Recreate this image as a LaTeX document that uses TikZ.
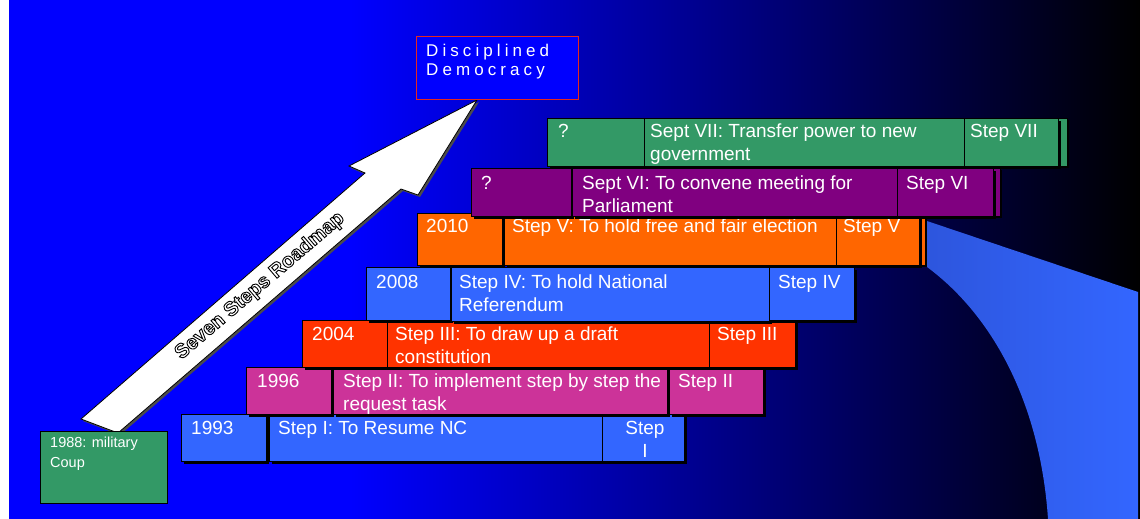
\documentclass[tikz,border=0pt]{standalone}
\usepackage{fontspec}
\setmainfont{Liberation Sans}
\definecolor{cgreen}{RGB}{51,153,102}
\definecolor{cpurple}{RGB}{128,0,128}
\definecolor{corange}{RGB}{255,102,0}
\definecolor{cblue}{RGB}{51,102,255}
\definecolor{cred}{RGB}{255,51,0}
\definecolor{cmagenta}{RGB}{204,51,153}
\definecolor{swl}{RGB}{45,85,220}
\definecolor{ddred}{RGB}{230,40,30}
\definecolor{pureblue}{RGB}{0,0,255}
\tikzset{
  cellbox/.style={draw=black, line width=0.9pt, inner sep=0pt, outer sep=0pt},
  txt/.style={anchor=base west, inner sep=0pt, text=white, font=\fontsize{19}{23}\selectfont},
  txtc/.style={txt, anchor=base},
}
\newcommand\cellrect[6]{% name, x1, y1, x2, y2, colour
  \fill[black] (#2+2.5,#3+2.5) rectangle (#4+2.5,#5+2.5);
  \node[cellbox, fill=#6, minimum width={#4-#2}, minimum height={#5-#3}, anchor=north west] (#1) at (#2,#3) {};
}
\newcommand\outlinetext[1]{\special{pdf:literal direct 2 Tr 0.9 w 0 G}#1\special{pdf:literal direct 0 Tr}}
\begin{document}
\begin{tikzpicture}[x=1pt,y=-1pt]
\useasboundingbox (0,0) rectangle (1140,519);
% background
\fill[white] (0,0) rectangle (1140,519);
\fill[pureblue] (9,0) rectangle (351,519);
\shade[left color=pureblue, right color=black] (350,0) rectangle (1140,519);
% swoosh
\shade[left color=swl, right color=cblue] (918,218) -- (1138,292) -- (1138,519) -- (1048,519)
  .. controls (1040,400) and (990,310) .. (920,262) -- cycle;
% arrow
\fill[black!70] (83,421) -- (367,175) -- (351,168) -- (479,102) -- (420,197) -- (403,191) -- (120,435) -- cycle;
\filldraw[fill=white, draw=black, line width=0.8pt] (81,419) -- (365,173) -- (349,166) -- (477,100) -- (418,195) -- (401,189) -- (118,433) -- cycle;
% arrow label
\node[rotate=40.5, text=white, font=\fontsize{20}{24}\selectfont\bfseries, inner sep=0pt] (lbl) at (260,286) {\outlinetext{Seven Steps Roadmap}};
% Disciplined Democracy
\node[draw=ddred, fill=pureblue, line width=1pt, minimum width=162pt, minimum height=63pt, anchor=north west, inner sep=0pt] (dd) at (416,36) {};
\node[txt, font=\fontsize{17}{18}\addfontfeatures{LetterSpace=24}\selectfont] (dd1) at (426,57) {Disciplined};
\node[txt, font=\fontsize{17}{18}\addfontfeatures{LetterSpace=24}\selectfont] (dd2) at (426,75) {Democracy};
% 1988 box
\node[draw=black, fill=cgreen, line width=1.3pt, minimum width=127pt, minimum height=72pt, anchor=north west, inner sep=0pt] (coup) at (40,431) {};
\node[txt, font=\fontsize{14.5}{19}\selectfont] (coup1) at (50,447) {1988: military};
\node[txt, font=\fontsize{14.5}{19}\selectfont] (coup2) at (50,467) {Coup};
% Row 1
\cellrect{r1a}{181}{414}{266}{461}{cblue}
\cellrect{r1b}{269}{414}{602.5}{461}{cblue}
\cellrect{r1c}{602.5}{414}{684.5}{461}{cblue}
\node[txt] (t1a) at (191,434) {1993};
\node[txt] (t1b) at (278,434) {Step I: To Resume NC};
\node[txtc] (t1c) at (645,434) {Step};
\node[txtc] (t1d) at (645,457) {I};
% Row 2
\cellrect{r2a}{246}{367}{331}{414}{cmagenta}
\cellrect{r2b}{333.5}{367}{667}{414}{cmagenta}
\cellrect{r2c}{669}{367}{763}{414}{cmagenta}
\node[txt] (t2a) at (257,387) {1996};
\node[txt] (t2b) at (343,387) {Step II: To implement step by step the};
\node[txt] (t2b2) at (343,410) {request task};
\node[txt] (t2c) at (678,387) {Step II};
% Row 3
\cellrect{r3a}{302}{320}{387.5}{367}{cred}
\cellrect{r3b}{387.5}{320}{709}{367}{cred}
\cellrect{r3c}{709}{320}{795}{367}{cred}
\node[txt] (t3a) at (312,340) {2004};
\node[txt] (t3b) at (395,340) {Step III: To draw up a draft};
\node[txt] (t3b2) at (395,363) {constitution};
\node[txt] (t3c) at (717,340) {Step III};
% Row 4
\cellrect{r4a}{366}{267}{450}{320}{cblue}
\cellrect{r4b}{451}{267}{769}{321}{cblue}
\cellrect{r4c}{769}{267}{854}{320}{cblue}
\node[txt] (t4a) at (376,288) {2008};
\node[txt] (t4b) at (459,288) {Step IV: To hold National};
\node[txt] (t4b2) at (459,311) {Referendum};
\node[txt] (t4c) at (778,288) {Step IV};
% Row 5
\fill[black] (919,215) rectangle (927,267);
\node[cellbox, fill=corange, minimum width=6pt, minimum height=52pt, anchor=north west] (r5d) at (919,213) {};
\cellrect{r5a}{417}{213}{502}{265}{corange}
\cellrect{r5b}{504}{213}{836}{265}{corange}
\cellrect{r5c}{836}{213}{919}{265}{corange}
\node[txt] (t5a) at (426,232) {2010};
\node[txt] (t5b) at (512,232) {Step V: To hold free and fair election};
\node[txt] (t5c) at (843,232) {Step V};
% Row 6
\fill[black] (993,170) rectangle (1002,218);
\node[cellbox, fill=cpurple, minimum width=7pt, minimum height=48pt, anchor=north west] (r6d) at (993,168) {};
\cellrect{r6a}{471}{168}{571}{216}{cpurple}
\cellrect{r6b}{572}{168}{897}{216}{cpurple}
\cellrect{r6c}{897}{168}{993}{216}{cpurple}
\node[txt] (t6a) at (481,189) {?};
\node[txt] (t6b) at (582,189) {Sept VI: To convene meeting for};
\node[txt] (t6b2) at (582,212) {Parliament};
\node[txt] (t6c) at (906,189) {Step VI};
% Row 7
\fill[black] (1058,120) rectangle (1069,168);
\node[cellbox, fill=cgreen, minimum width=9pt, minimum height=48pt, anchor=north west] (r7d) at (1058,118) {};
\cellrect{r7a}{547}{118}{644}{166}{cgreen}
\cellrect{r7b}{644}{118}{964}{166}{cgreen}
\cellrect{r7c}{964}{118}{1058}{166}{cgreen}
\node[txt] (t7a) at (558,137) {?};
\node[txt] (t7b) at (650,137) {Sept VII: Transfer power to new};
\node[txt] (t7b2) at (650,160) {government};
\node[txt] (t7c) at (970,137) {Step VII};
\end{tikzpicture}
\end{document}
